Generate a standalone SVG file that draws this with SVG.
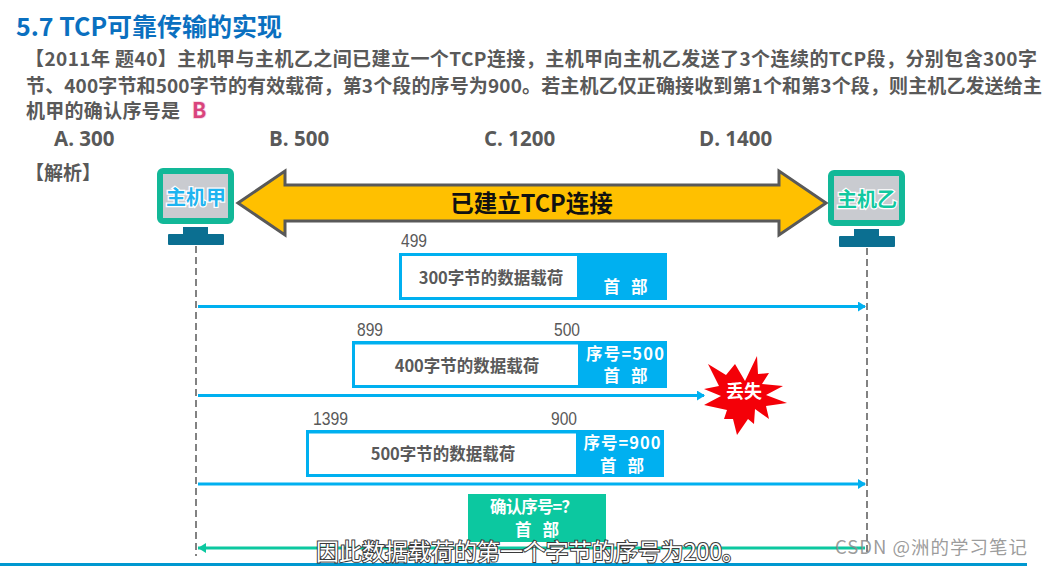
<svg xmlns="http://www.w3.org/2000/svg" width="1042" height="566" viewBox="0 0 1042 566">
<style>
text{font-family:"Noto Sans CJK SC","Noto Sans",sans-serif;}
.q{font-size:19px;font-weight:700;fill:#595959}
.opt{font-size:20.5px;font-weight:700;fill:#595959;font-family:"Open Sans","Noto Sans CJK SC",sans-serif}
.num{font-size:19px;fill:#595959;font-family:"Liberation Sans",sans-serif}
.pay{font-size:16.5px;font-weight:700;fill:#595959;text-anchor:middle}
.hd{font-size:16.5px;font-weight:700;fill:#fff;text-anchor:middle}
.payload{fill:#fff;stroke:#00b0f0;stroke-width:3}
.hdr{fill:#00b0f0}
.life{stroke:#595959;stroke-width:1.5;stroke-dasharray:7 4;fill:none}
.sc{fill:#c9cbd0;stroke:#12b898;stroke-width:6}
.st{fill:#0b6f91}
</style>
<defs>
<marker id="ab" markerWidth="9" markerHeight="10" refX="7" refY="5" orient="auto" markerUnits="userSpaceOnUse"><path d="M0 0L8 5L0 10Z" fill="#00b0f0"/></marker>
<marker id="ag" markerWidth="10" markerHeight="10" refX="8" refY="5" orient="auto" markerUnits="userSpaceOnUse"><path d="M0 0L8 5L0 10Z" fill="#0cc8a0"/></marker>
</defs>
<rect width="1042" height="566" fill="#fff"/>
<text x="16" y="36" font-size="25" font-weight="700" fill="#0a70c0" textLength="266">5.7 TCP可靠传输的实现</text>
<text class="q" x="25" y="66" textLength="1012">【2011年 题40】主机甲与主机乙之间已建立一个TCP连接，主机甲向主机乙发送了3个连续的TCP段，分别包含300字</text>
<text class="q" x="26" y="93" textLength="1016">节、400字节和500字节的有效载荷，第3个段的序号为900。若主机乙仅正确接收到第1个和第3个段，则主机乙发送给主</text>
<text class="q" x="26" y="118" textLength="154">机甲的确认序号是</text>
<text x="192" y="118" font-size="21" font-weight="700" fill="#d9447c" stroke="#f6d5e2" stroke-width="1.500" paint-order="stroke" font-family="Open Sans">B</text>
<text class="opt" x="54" y="146">A. 300</text>
<text class="opt" x="269" y="146">B. 500</text>
<text class="opt" x="484" y="146">C. 1200</text>
<text class="opt" x="699" y="146">D. 1400</text>
<text class="q" x="25" y="180">【解析】</text>
<g id="connectors">
<line class="life" x1="196" y1="246" x2="196" y2="556"/>
<line class="life" x1="867" y1="248" x2="867" y2="556"/>
<path d="M198 306.500H865" stroke="#00b0f0" stroke-width="3" fill="none" marker-end="url(#ab)"/>
<path d="M198 395.500H704" stroke="#00b0f0" stroke-width="3" fill="none" marker-end="url(#ab)"/>
<path d="M198 484H865" stroke="#00b0f0" stroke-width="3" fill="none" marker-end="url(#ab)"/>
<path d="M865 548H198" stroke="#0cc8a0" stroke-width="3" fill="none" marker-end="url(#ag)"/>
</g>
<g id="host-a">
<rect class="sc" x="160" y="171" width="71" height="50" rx="3"/>
<rect class="st" x="183" y="227" width="25" height="9"/>
<rect class="st" x="168" y="234" width="56" height="11" rx="1"/>
<text x="196" y="205" font-size="20" font-weight="700" fill="#1fb4f0" stroke="#fff" stroke-width="2.500" paint-order="stroke" text-anchor="middle">主机甲</text>
</g>
<g id="host-b">
<rect class="sc" x="831" y="173" width="71" height="50" rx="3"/>
<rect class="st" x="854" y="229" width="25" height="9"/>
<rect class="st" x="839" y="236" width="56" height="11" rx="1"/>
<text x="867" y="207" font-size="20" font-weight="700" fill="#12c8a0" stroke="#fff" stroke-width="2.500" paint-order="stroke" text-anchor="middle">主机乙</text>
</g>
<g id="tcp-connection">
<path d="M238 203L285 171V185H779V171L826 203L779 235V221H285V235Z" fill="#ffc000" stroke="#595959" stroke-width="3"/>
<text x="531.500" y="212" font-size="23.500" font-weight="700" fill="#111" text-anchor="middle">已建立TCP连接</text>
</g>
<g id="seg1">
<text class="num" x="401" y="247" textLength="26" lengthAdjust="spacingAndGlyphs">499</text>
<rect class="hdr" x="399" y="253" width="268" height="47"/>
<rect class="payload" x="400.500" y="254.500" width="178" height="44"/>
<text class="pay" x="491" y="284">300字节的数据载荷</text>
<text class="hd" x="625.500" y="293" textLength="44">首 部</text>
</g>
<g id="seg2">
<text class="num" x="357" y="336" textLength="26" lengthAdjust="spacingAndGlyphs">899</text>
<text class="num" x="554" y="336" textLength="26" lengthAdjust="spacingAndGlyphs">500</text>
<rect class="hdr" x="352" y="341" width="315" height="47"/>
<rect class="payload" x="353.500" y="343" width="226" height="43.500"/>
<text class="pay" x="467" y="372">400字节的数据载荷</text>
<text class="hd" x="625" y="360" textLength="78">序号=500</text>
<text class="hd" x="625.500" y="382" textLength="44">首 部</text>
</g>
<g id="lost">
<path d="M745 381L757 356L758 374L769 373L762 384L783 386L766 395L787 403L766 406L769 419L755 409L754 424L748 419L737 435L733 419L724 419L727 410L704 405L721 396L704 389L719 386L708 364L726 375L735 364Z" fill="#f40008"/>
<text x="744" y="398" font-size="18" font-weight="700" fill="#fff" text-anchor="middle">丢失</text>
</g>
<g id="seg3">
<text class="num" x="313" y="425" textLength="35" lengthAdjust="spacingAndGlyphs">1399</text>
<text class="num" x="551" y="425" textLength="26" lengthAdjust="spacingAndGlyphs">900</text>
<rect class="hdr" x="306" y="430" width="358" height="47"/>
<rect class="payload" x="307.500" y="432" width="270" height="43.500"/>
<text class="pay" x="443" y="460">500字节的数据载荷</text>
<text class="hd" x="622" y="449" textLength="77">序号=900</text>
<text class="hd" x="622" y="472" textLength="44">首 部</text>
</g>
<g id="ack">
<rect x="468" y="494" width="138" height="48" fill="#0cc8a0"/>
<text x="534" y="513" class="hd" textLength="88">确认序号=？</text>
<text class="hd" x="537" y="536" textLength="44">首 部</text>
</g>
<rect x="0" y="563" width="1027" height="3" fill="#0098d0"/>
<text x="530.500" y="560" font-size="23" fill="#fff" stroke="#3a3a3a" stroke-width="2" paint-order="stroke" text-anchor="middle" textLength="429">因此数据载荷的第一个字节的序号为200。</text>
<text x="835" y="554" font-size="18.500" fill="#8a8a8a" fill-opacity="0.85" textLength="192">CSDN @洲的学习笔记</text>
</svg>
